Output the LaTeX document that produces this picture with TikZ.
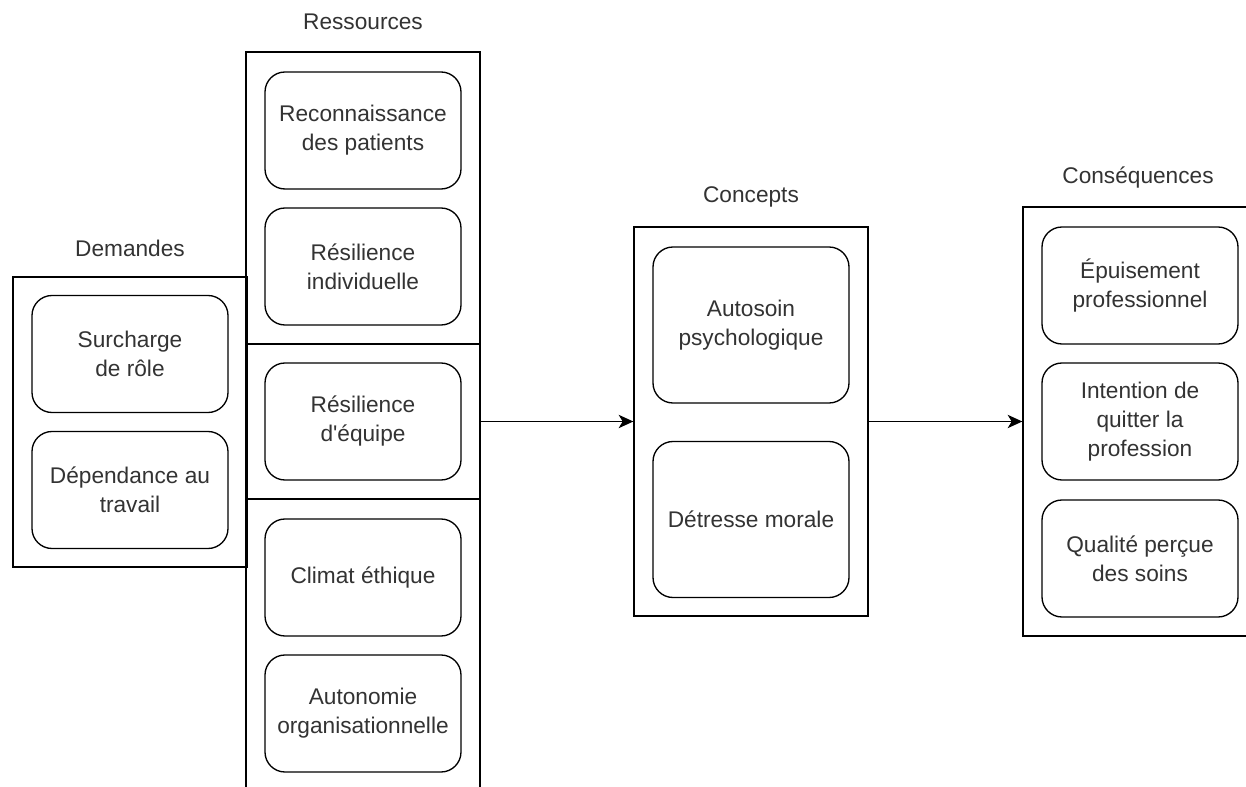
\documentclass[tikz,border=0pt]{standalone}
\usepackage{fontspec}
\setmainfont{Liberation Sans}
\usetikzlibrary{arrows.meta}
\definecolor{labeltext}{HTML}{333333}
\tikzset{
  group/.style={draw, line width=1pt, minimum width=175.5pt, inner sep=0pt},
  item/.style={draw, fill=white, rounded corners=15pt, line width=1pt,
               minimum width=147pt, minimum height=87.75pt, inner sep=0pt,
               text=labeltext, align=center,
               font=\fontsize{17}{21.75}\selectfont},
  tallitem/.style={item, minimum height=117pt},
  grouptitle/.style={text=labeltext, inner sep=0pt, font=\fontsize{17}{21.75}\selectfont},
  flow/.style={-{Stealth[length=11pt, width=10pt, inset=3pt]}, line width=1.1pt},
}
\begin{document}
\begin{tikzpicture}[x=0.75pt, y=-0.75pt]
    \useasboundingbox[fill=white] (0,0) rectangle (1246,787);
    \node[group, minimum height=217.5pt] (demandes) at (130,422) {};
    \node[item] (surcharge) at (130,354) {Surcharge\\de rôle};
    \node[item] (dependance) at (130,490) {Dépendance au\\travail};
    \node[grouptitle] (tdemandes) at (130,248) {Demandes};
    \node[group, minimum height=219pt] (ressA) at (363,198) {};
    \node[group, minimum height=116.25pt] (ressB) at (363,421.5) {};
    \node[group, minimum height=219pt] (ressC) at (363,645) {};
    \node[item] (reconnaissance) at (363,130.5) {Reconnaissance\\des patients};
    \node[item] (resind) at (363,266.5) {Résilience\\individuelle};
    \node[item] (reseq) at (363,421.5) {Résilience\\d\textquotesingle équipe};
    \node[item] (climat) at (363,577.5) {Climat éthique};
    \node[item] (autonomie) at (363,713.5) {Autonomie\\organisationnelle};
    \node[grouptitle] (tressources) at (363,22) {Ressources};
    \node[group, minimum height=291.75pt] (concepts) at (751,421.5) {};
    \node[tallitem] (autosoin) at (751,325) {Autosoin\\psychologique};
    \node[tallitem] (detresse) at (751,519.5) {Détresse morale};
    \node[grouptitle] (tconcepts) at (751,197) {Concepts};
    \node[group, minimum height=321.75pt] (consequences) at (1140,421.5) {};
    \node[item] (epuisement) at (1140,285.5) {Épuisement\\professionnel};
    \node[item] (intention) at (1140,421.5) {Intention de\\quitter la\\profession};
    \node[item] (qualite) at (1140,558.5) {Qualité perçue\\des soins};
    \node[grouptitle] (tconsequences) at (1138,178) {Conséquences};
    \draw[flow] (ressB.east) -- (concepts.west);
    \draw[flow] (concepts.east) -- (consequences.west);
  \end{tikzpicture}
\end{document}
